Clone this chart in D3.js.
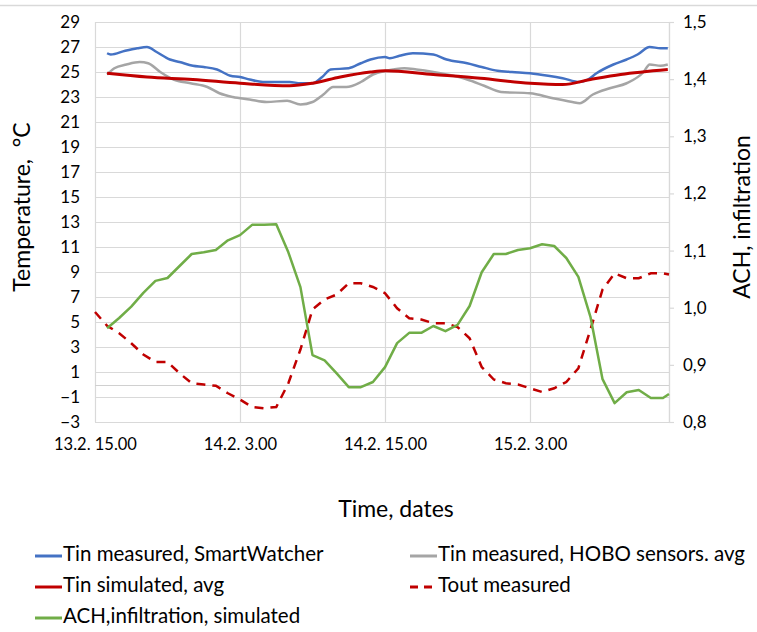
<!DOCTYPE html>
<html>
<head>
<meta charset="utf-8">
<script src="https://cdn.jsdelivr.net/npm/d3@7"></script>
<style>
  body { margin: 0; background: #fff; }
  text { font-family: Lato, "Open Sans", sans-serif; fill: #000; }
</style>
</head>
<body>
<div id="chart"></div>
<script>
const width = 757;
const height = 632;

// hours after 13.2. 15.00
const xTickHours = [0, 12, 24, 36];
const xTickLabels = ["13.2. 15.00", "14.2. 3.00", "14.2. 15.00", "15.2. 3.00"];
const leftTicks = [-3, -1, 1, 3, 5, 7, 9, 11, 13, 15, 17, 19, 21, 23, 25, 27, 29];
const rightTicks = [0.8, 0.9, 1.0, 1.1, 1.2, 1.3, 1.4, 1.5];

// Tin measured, SmartWatcher
const smartHours = [1, 1.3, 2.5, 3.5, 4.3, 5.1, 6.2, 7, 8.1, 9, 10.1, 11.2, 12, 12.8, 13.9, 15, 16.1, 17, 18, 18.8, 19.5, 21, 22, 22.8, 24, 24.4, 25.2, 26.3, 28, 29.1, 30.8, 32, 33.3, 34.5, 36, 37.5, 38.7, 40.1, 40.8, 41.5, 42.9, 44, 44.9, 45.9, 46.8, 47.4];
const smartValues = [26.5, 26.4, 26.7, 26.9, 27.0, 26.6, 26.0, 25.8, 25.5, 25.4, 25.2, 24.7, 24.6, 24.4, 24.2, 24.2, 24.2, 24.1, 24.1, 24.6, 25.2, 25.3, 25.7, 26.0, 26.2, 26.1, 26.3, 26.5, 26.4, 26.0, 25.7, 25.4, 25.1, 25.0, 24.9, 24.7, 24.5, 24.2, 24.4, 24.9, 25.6, 26.0, 26.4, 27.0, 26.9, 26.9];

// Tin measured, HOBO sensors. avg
const hoboHours = [1, 1.6, 2.6, 3.7, 4.4, 5.4, 6.5, 7.9, 9.3, 10.3, 11.4, 12.8, 14.2, 15.9, 17, 18, 18.9, 19.7, 20.8, 22, 23, 24.1, 25.6, 26.6, 28, 29.1, 30.8, 32.2, 33.6, 36, 37.9, 39.5, 40.1, 41.2, 42.6, 44, 45.4, 45.9, 46.8, 47.4];
const hoboValues = [24.8, 25.3, 25.6, 25.8, 25.7, 25.0, 24.4, 24.1, 23.8, 23.3, 23.0, 22.8, 22.6, 22.7, 22.4, 22.6, 23.2, 23.8, 23.8, 24.2, 24.8, 25.1, 25.3, 25.2, 25.0, 24.8, 24.4, 23.9, 23.4, 23.3, 22.9, 22.6, 22.5, 23.2, 23.7, 24.1, 25.0, 25.6, 25.5, 25.6];

// Tin simulated, avg
const simHours = [1, 4.3, 8.1, 12, 16.1, 18, 20.3, 22.8, 24, 28, 31.9, 36, 38.7, 41, 43.5, 47.4];
const simValues = [24.9, 24.6, 24.4, 24.1, 23.9, 24.1, 24.6, 25.0, 25.1, 24.8, 24.5, 24.1, 24.0, 24.4, 24.8, 25.2];

// Tout measured
const toutHours = [0, 1, 2, 3, 4, 5, 6, 7, 8, 9, 10, 11, 12, 13, 14, 15, 16, 17, 18, 19, 20, 21, 22, 23, 24, 25, 26, 27, 28, 29, 30, 31, 32, 33, 34, 35, 36, 37, 38, 39, 40, 41, 42, 43, 44, 45, 46, 47, 47.5];
const toutValues = [5.8, 4.7, 4.1, 3.3, 2.4, 1.8, 1.8, 0.9, 0.1, 0.0, -0.1, -0.7, -1.2, -1.8, -1.9, -1.8, 0.1, 2.8, 6.0, 6.8, 7.2, 8.1, 8.1, 7.8, 7.3, 6.1, 5.3, 5.2, 4.9, 4.9, 4.6, 3.7, 1.4, 0.4, 0.1, 0.0, -0.3, -0.6, -0.3, 0.2, 1.3, 4.4, 7.6, 8.9, 8.5, 8.5, 8.9, 8.9, 8.8];

// ACH, infiltration, simulated (right axis)
const achHours = [1, 2, 3, 4, 5, 6, 7, 8, 9, 10, 11, 12, 13, 14, 15, 16, 17, 18, 19, 20, 21, 22, 23, 24, 25, 26, 27, 28, 29, 30, 31, 32, 33, 34, 35, 36, 37, 38, 39, 40, 41, 42, 43, 44, 45, 46, 47, 47.5];
const achValues = [0.964, 0.982, 1.002, 1.026, 1.047, 1.052, 1.073, 1.094, 1.097, 1.101, 1.118, 1.127, 1.145, 1.145, 1.146, 1.097, 1.036, 0.917, 0.908, 0.885, 0.861, 0.861, 0.870, 0.896, 0.938, 0.956, 0.956, 0.968, 0.959, 0.970, 1.003, 1.062, 1.094, 1.094, 1.101, 1.104, 1.111, 1.108, 1.087, 1.054, 0.984, 0.875, 0.833, 0.852, 0.856, 0.842, 0.842, 0.849];

const margin = { left: 95, right: 88, top: 22, bottom: 210 };

const svg = d3.select("#chart")
  .append("svg")
  .attr("width", width)
  .attr("height", height);

// thin frame line at the top of the picture
svg.append("line")
  .attr("x1", 0).attr("x2", width)
  .attr("y1", 5.5).attr("y2", 5.5)
  .style("stroke", "#d9d9d9")
  .style("stroke-width", 1.5);

const x = d3.scaleLinear()
  .domain([0, 47.5])
  .range([margin.left, width - margin.right]);

const yLeft = d3.scaleLinear()
  .domain([-3, 29])
  .range([height - margin.bottom, margin.top]);

const yRight = d3.scaleLinear()
  .domain([0.8, 1.5])
  .range([height - margin.bottom, margin.top]);

// horizontal gridlines
svg.append("g")
  .selectAll("line")
  .data(leftTicks)
  .enter()
  .append("line")
  .attr("x1", x(0))
  .attr("x2", x(47.5))
  .attr("y1", (d) => Math.round(yLeft(d)) + 0.5)
  .attr("y2", (d) => Math.round(yLeft(d)) + 0.5)
  .style("stroke", "#d9d9d9")
  .style("stroke-width", 1.2);

// vertical gridlines
svg.append("g")
  .selectAll("line")
  .data(xTickHours.concat([47.5]))
  .enter()
  .append("line")
  .attr("x1", (d) => Math.round(x(d)) + 0.5)
  .attr("x2", (d) => Math.round(x(d)) + 0.5)
  .attr("y1", yLeft(29))
  .attr("y2", yLeft(-3))
  .style("stroke", "#d9d9d9")
  .style("stroke-width", 1.2);

// horizontal axis line crossing at 0
svg.append("line")
  .attr("x1", x(0))
  .attr("x2", x(47.5))
  .attr("y1", Math.round(yLeft(0)) + 0.5)
  .attr("y2", Math.round(yLeft(0)) + 0.5)
  .style("stroke", "#d0d0d0")
  .style("stroke-width", 1.2);

// left axis labels
const leftAxis = d3.axisLeft(yLeft)
  .tickValues(leftTicks)
  .tickSize(0)
  .tickPadding(15)
  .tickFormat(d3.format("d"));

const gLeft = svg.append("g")
  .attr("transform", "translate(" + margin.left + ",0)")
  .call(leftAxis);
gLeft.select(".domain").remove();
gLeft.selectAll("text")
  .style("font-size", "17px")
  .style("font-family", "Lato, sans-serif")
  .attr("fill", "#000");

// right axis with small outside ticks
const rightAxis = d3.axisRight(yRight)
  .tickValues(rightTicks)
  .tickSize(5)
  .tickPadding(9)
  .tickFormat((d) => d3.format(".1f")(d).replace(".", ","));

const gRight = svg.append("g")
  .attr("transform", "translate(" + (width - margin.right) + ",0)")
  .call(rightAxis);
gRight.select(".domain").attr("stroke", "#d9d9d9").attr("stroke-width", 1.2);
gRight.selectAll(".tick line").attr("stroke", "#d9d9d9").attr("stroke-width", 1.2);
gRight.selectAll("text")
  .style("font-size", "17px")
  .style("font-family", "Lato, sans-serif")
  .attr("fill", "#000");

// bottom axis labels
const bottomAxis = d3.axisBottom(x)
  .tickValues(xTickHours)
  .tickSize(0)
  .tickPadding(16)
  .tickFormat((d, i) => xTickLabels[i]);

const gBottom = svg.append("g")
  .attr("transform", "translate(0," + yLeft(-3) + ")")
  .call(bottomAxis);
gBottom.select(".domain").remove();
gBottom.selectAll("text")
  .style("font-size", "16.5px")
  .style("font-family", "Lato, sans-serif")
  .attr("fill", "#000");

// axis titles
svg.append("text")
  .attr("transform", "translate(24,207) rotate(-90)")
  .style("text-anchor", "middle")
  .style("dominant-baseline", "middle")
  .style("font-size", "23px")
  .text("Temperature,\u00a0\u00a0°C");

svg.append("text")
  .attr("transform", "translate(744,217) rotate(-90)")
  .style("text-anchor", "middle")
  .style("dominant-baseline", "middle")
  .style("font-size", "23px")
  .text("ACH, infiltration");

svg.append("text")
  .attr("x", 396)
  .attr("y", 511)
  .style("text-anchor", "middle")
  .style("dominant-baseline", "middle")
  .style("font-size", "23px")
  .text("Time, dates");

// lines
const leftLine = d3.line()
  .x((d) => x(d[0]))
  .y((d) => yLeft(d[1]));

const rightLine = d3.line()
  .x((d) => x(d[0]))
  .y((d) => yRight(d[1]));

function pairs(hours, values) {
  return hours.map((h, i) => [h, values[i]]);
}

svg.append("path")
  .datum(pairs(hoboHours, hoboValues))
  .attr("d", leftLine.curve(d3.curveMonotoneX))
  .style("fill", "none")
  .style("stroke", "#a5a5a5")
  .style("stroke-width", 2.5);

svg.append("path")
  .datum(pairs(smartHours, smartValues))
  .attr("d", leftLine.curve(d3.curveMonotoneX))
  .style("fill", "none")
  .style("stroke", "#4472c4")
  .style("stroke-width", 2.5);

svg.append("path")
  .datum(pairs(simHours, simValues))
  .attr("d", leftLine.curve(d3.curveMonotoneX))
  .style("fill", "none")
  .style("stroke", "#c00000")
  .style("stroke-width", 3);

svg.append("path")
  .datum(pairs(toutHours, toutValues))
  .attr("d", leftLine.curve(d3.curveLinear))
  .style("fill", "none")
  .style("stroke", "#c00000")
  .style("stroke-width", 2.5)
  .style("stroke-dasharray", "9,7");

svg.append("path")
  .datum(pairs(achHours, achValues))
  .attr("d", rightLine.curve(d3.curveLinear))
  .style("fill", "none")
  .style("stroke", "#70ad47")
  .style("stroke-width", 2.5)
  .style("stroke-linejoin", "round");

// legend
const legendItems = [
  { name: "Tin measured, SmartWatcher", color: "#4472c4", dash: null, lx: 35, ly: 556 },
  { name: "Tin measured, HOBO sensors. avg", color: "#a5a5a5", dash: null, lx: 410, ly: 556 },
  { name: "Tin simulated, avg", color: "#c00000", dash: null, lx: 35, ly: 587 },
  { name: "Tout measured", color: "#c00000", dash: "8,6", lx: 410, ly: 587 },
  { name: "ACH,infiltration, simulated", color: "#70ad47", dash: null, lx: 35, ly: 618 },
];

const legend = svg.append("g")
  .selectAll("g")
  .data(legendItems)
  .enter()
  .append("g")
  .attr("transform", (d) => "translate(" + d.lx + "," + d.ly + ")");

legend.append("line")
  .attr("x1", 0)
  .attr("x2", 27)
  .attr("y1", 0)
  .attr("y2", 0)
  .style("stroke", (d) => d.color)
  .style("stroke-width", 3)
  .style("stroke-dasharray", (d) => d.dash);

legend.append("text")
  .attr("x", 28)
  .attr("y", 0)
  .style("dominant-baseline", "middle")
  .style("font-size", "20.5px")
  .text((d) => d.name);
</script>
</body>
</html>
